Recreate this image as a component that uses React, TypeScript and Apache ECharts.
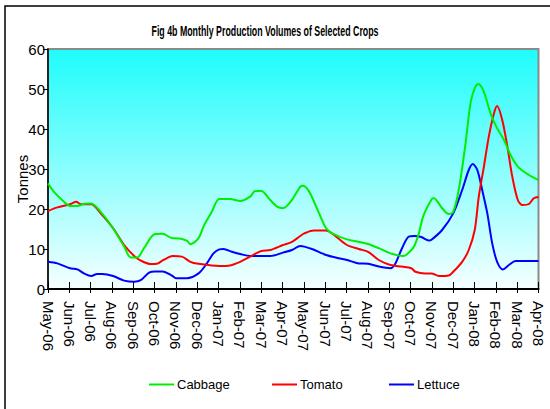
import React, { useEffect, useRef } from "react";
import * as echarts from "echarts";

const months = [
  "May-06", "Jun-06", "Jul-06", "Aug-06", "Sep-06", "Oct-06", "Nov-06", "Dec-06",
  "Jan-07", "Feb-07", "Mar-07", "Apr-07", "May-07", "Jun-07", "Jul-07", "Aug-07",
  "Sep-07", "Oct-07", "Nov-07", "Dec-07", "Jan-08", "Feb-08", "Mar-08", "Apr-08",
];

const yTicks = [0, 10, 20, 30, 40, 50, 60];

// [month index, tonnes]
const cabbage: [number, number][] = [
  [0, 26.4], [0.28, 24.3], [0.75, 21.8], [1.03, 20.75], [1.38, 20.75], [1.7, 21.3], [2.03, 21.4],
  [2.47, 19.3], [3.05, 15.2], [3.57, 10.6], [3.88, 7.9], [4.19, 7.9], [4.5, 10.2], [5.02, 13.75],
  [5.37, 13.8], [5.84, 12.7], [6.0, 12.7], [6.51, 12.1], [6.67, 11.2], [7.06, 12.7], [7.29, 15.6],
  [7.68, 19.3], [8.03, 22.5], [8.54, 22.5], [9.01, 22], [9.48, 23.1], [9.72, 24.5], [10, 24.5],
  [10.42, 22.25], [10.74, 20.6], [11.02, 20.2], [11.44, 22.3], [11.83, 25.6], [11.94, 25.8],
  [12.22, 24.6], [12.54, 21], [12.85, 17.25], [13.04, 15.2], [13.32, 13.9], [14.02, 12.4],
  [14.57, 11.8], [15.01, 11.25], [15.51, 10.2], [16.06, 8.9], [16.68, 8.25], [17.04, 9.75],
  [17.2, 11], [17.39, 13.9], [17.6, 18.3], [18.0, 22.5], [18.09, 22.7], [18.48, 20.2],
  [18.79, 18.75], [19.0, 19.3], [19.26, 24.75], [19.58, 36.4], [19.81, 46.4], [20.01, 50.2],
  [20.17, 51.25], [20.44, 49.3], [20.75, 43.9], [21.02, 40.6], [21.38, 37.25], [21.69, 33.5],
  [22.03, 30.6], [22.55, 28.5], [23, 27.25],
];

const tomato: [number, number][] = [
  [0, 19.5], [0.44, 20.4], [1.03, 21.2], [1.33, 21.8], [1.53, 21.2], [2.03, 21.2], [2.47, 18.9],
  [3.05, 15.2], [3.57, 11], [4.04, 8.25], [4.35, 7.1], [4.82, 6.25], [5.1, 6.3], [5.4, 7.2],
  [5.84, 8.25], [6.28, 8.1], [6.67, 6.8], [7.06, 6.3], [8.03, 5.75], [8.54, 5.9], [9.01, 6.8],
  [9.48, 8.1], [10, 9.5], [10.42, 9.75], [11.02, 11], [11.44, 11.8], [11.83, 13.25], [12.02, 13.9],
  [12.46, 14.6], [13.04, 14.6], [13.32, 13.9], [14.02, 11], [14.57, 10], [15.01, 9.3],
  [15.51, 7.25], [16.06, 6], [16.6, 5.6], [17.04, 5.2], [17.23, 4.3], [17.7, 3.9], [17.98, 3.9],
  [18.33, 3.25], [18.79, 3.4], [19.0, 4.3], [19.42, 6.8], [19.73, 9.75], [20.01, 14.75],
  [20.2, 23.1], [20.44, 30.6], [20.67, 38.1], [20.91, 43.9], [21.06, 45.75], [21.3, 42.25],
  [21.54, 35.6], [21.77, 28.1], [22.03, 22.25], [22.24, 21], [22.55, 21.25], [22.78, 22.7], [23, 23],
];

const lettuce: [number, number][] = [
  [0, 6.8], [0.44, 6.4], [1.03, 5.2], [1.38, 4.9], [1.69, 3.9], [2.03, 3.25], [2.3, 3.75],
  [2.55, 3.75], [3.05, 3.25], [3.57, 2.1], [4.04, 1.8], [4.35, 2.2], [4.74, 4.1], [5.02, 4.4],
  [5.37, 4.4], [5.84, 3.25], [6.0, 2.7], [6.51, 2.7], [7.06, 3.9], [7.45, 6.4], [7.76, 8.9],
  [8.03, 9.9], [8.23, 10], [8.62, 9.3], [9.01, 8.75], [9.48, 8.25], [10, 8.25], [10.42, 8.25],
  [11.02, 9.1], [11.44, 9.75], [11.83, 10.75], [12.02, 10.6], [12.38, 10], [13.04, 8.5],
  [13.63, 7.7], [14.02, 7.25], [14.57, 6.4], [15.01, 6.3], [15.51, 5.6], [16.06, 5.2],
  [16.29, 6.4], [16.6, 10.2], [16.92, 13.1], [17.2, 13.25], [17.5, 13], [17.86, 12.1],
  [17.98, 12.3], [18.48, 14.75], [19.0, 18.9], [19.42, 24.75], [19.73, 29.75], [19.92, 31.25],
  [20.13, 29.75], [20.36, 24.75], [20.6, 18.9], [20.83, 11.4], [21.06, 6.8], [21.33, 4.9],
  [21.61, 6], [21.93, 7], [23, 7],
];

const seriesNames = ["Cabbage", "Tomato", "Lettuce"];
const seriesColors = ["#00ee00", "#ff0000", "#0000ff"];
const titleText = "Fig 4b Monthly Production Volumes of Selected Crops";
const yName = "Tonnes";

const FONT = "'Liberation Sans', Arial, sans-serif";

export default function App() {
  const ref = useRef<HTMLDivElement>(null);
  useEffect(() => {
    if (!ref.current) return;
    const chart = echarts.init(ref.current, null, { renderer: "svg" });
    const data = [cabbage, tomato, lettuce];
    const legendLefts = [144, 267, 384];
    chart.setOption({
      animation: false,
      backgroundColor: "#ffffff",
      grid: {
        left: 48,
        right: 11.5,
        top: 49,
        bottom: 120,
        show: true,
        borderColor: "#8a8a8a",
        borderWidth: 2,
        backgroundColor: new echarts.graphic.LinearGradient(0, 0, 0, 1, [
          { offset: 0, color: "#1efcfc" },
          { offset: 1, color: "#f6ffff" },
        ]),
      },
      graphic: [
        {
          type: "rect",
          shape: { x: 5, y: 6, width: 600, height: 500 },
          style: { fill: "none", stroke: "#000", lineWidth: 1.5 },
          z: -10,
          silent: true,
        },
        {
          type: "text",
          x: 265,
          y: 31,
          scaleX: 0.63,
          style: {
            text: titleText,
            fontSize: 14,
            fontWeight: "bold",
            fontFamily: FONT,
            fill: "#000",
            align: "center",
            verticalAlign: "middle",
          },
        },
        {
          type: "text",
          x: 22,
          y: 179,
          rotation: Math.PI / 2,
          style: {
            text: yName,
            fontSize: 15,
            fontFamily: FONT,
            fill: "#000",
            align: "center",
            verticalAlign: "middle",
          },
        },
      ],
      legend: seriesNames.map((name, i) => ({
        left: legendLefts[i],
        top: 373,
        itemWidth: 25,
        itemHeight: 2,
        icon: "rect",
        data: [name],
        textStyle: { fontSize: 13, fontFamily: FONT, color: "#000", padding: [0, 0, 0, -2] },
      })),
      xAxis: [
        {
          type: "value",
          min: 0,
          max: 23,
          interval: 1,
          splitLine: { show: false },
          axisLine: { lineStyle: { color: "#000", width: 2 } },
          axisTick: { inside: true, length: 7, lineStyle: { color: "#000", width: 1 } },
          axisLabel: {
            rotate: -90,
            margin: 12,
            fontSize: 15,
            fontFamily: FONT,
            color: "#000",
            formatter: (v: number) => months[Math.round(v)] ?? "",
          },
        },
        {
          type: "value",
          min: 0,
          max: 23,
          interval: 1,
          position: "bottom",
          splitLine: { show: false },
          axisLine: { show: false },
          axisTick: { inside: false, length: 4, lineStyle: { color: "#000", width: 1 } },
          axisLabel: { show: false },
        },
      ],
      yAxis: {
        type: "value",
        min: yTicks[0],
        max: yTicks[yTicks.length - 1],
        interval: 10,
        splitLine: { show: false },
        axisLine: { show: true, lineStyle: { color: "#000", width: 1.5 } },
        axisTick: { show: true, length: 5, lineStyle: { color: "#000" } },
        axisLabel: {
          margin: 3,
          fontSize: 15,
          fontFamily: FONT,
          color: "#000",
        },
      },
      series: seriesNames.map((name, i) => ({
        name,
        type: "line",
        data: data[i],
        showSymbol: false,
        smooth: 0.3,
        color: seriesColors[i],
        lineStyle: { width: 2, color: seriesColors[i] },
        z: 3 - i,
      })),
    });
    return () => chart.dispose();
  }, []);
  return (
    <div
      ref={ref}
      style={{ position: "absolute", left: 0, top: 0, width: 550, height: 409 }}
    />
  );
}
